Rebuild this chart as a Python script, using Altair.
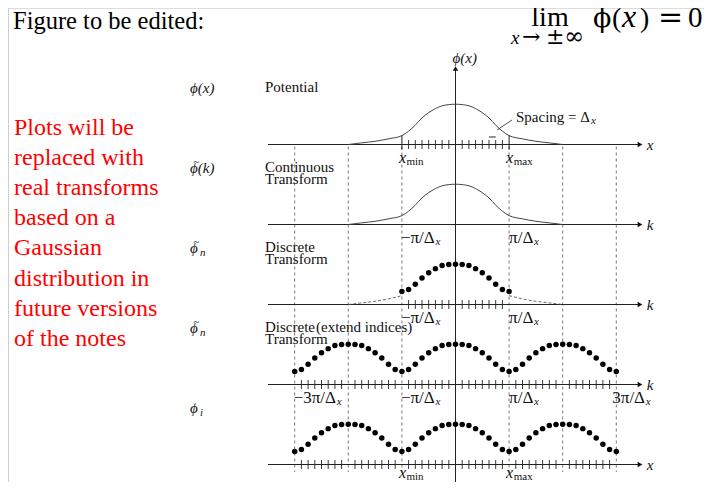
import altair as alt
import pandas as pd

# ---------------- data ----------------
# horizontal unit: 1 = distance from 0 to x_max (= pi/Delta_x)
row_base = [4, 3, 2, 1, 0]                 # potential, continuous, discrete, extended, phi_i
axis_end_labels = ["x", "k", "k", "k", "x"]

# Gaussian curve (normalised to peak) used for the potential and continuous transform
gauss_u = [-2.0, -1.75, -1.5, -1.25, -1.0, -0.875, -0.75, -0.625, -0.5, -0.375, -0.25, -0.125,
           0.0, 0.125, 0.25, 0.375, 0.5, 0.625, 0.75, 0.875, 1.0, 1.25, 1.5, 1.75, 2.0]
gauss_amp = [0.0, 0.04, 0.08, 0.14, 0.22, 0.33, 0.48, 0.66, 0.79, 0.89, 0.96, 0.99,
             1.0, 0.99, 0.96, 0.89, 0.79, 0.66, 0.48, 0.33, 0.22, 0.14, 0.08, 0.04, 0.0]

# discrete samples over one period (-1 ... 0.875)
period_u = [-1.0, -0.875, -0.75, -0.625, -0.5, -0.375, -0.25, -0.125,
            0.0, 0.125, 0.25, 0.375, 0.5, 0.625, 0.75, 0.875]
period_amp = [0.32, 0.37, 0.50, 0.66, 0.79, 0.89, 0.97, 0.99,
              1.0, 0.99, 0.97, 0.89, 0.79, 0.66, 0.50, 0.37]
period_shifts = [-2, 0, 2]

fine_grid = [-3 + 0.125 * i for i in range(49)]
dashed_u = [-3, -2, -1, 1, 2, 3]

left_math_main = ["\u03d5(x)", "\u03d5(k)", "\u03d5", "\u03d5", "\u03d5"]
left_math_tilde = [False, True, True, True, False]
left_math_sub = ["", "", "n", "n", "i"]

row_titles = [["Potential"], ["Continuous", "Transform"], ["Discrete", "Transform"],
              ["Discrete", "Transform"], []]

tick_labels = [
    (0, -1, "x", "min"), (0, 1, "x", "max"),
    (1, -1, "\u2212\u03c0/\u0394", "x"), (1, 1, "\u03c0/\u0394", "x"),
    (2, -1, "\u2212\u03c0/\u0394", "x"), (2, 1, "\u03c0/\u0394", "x"),
    (3, -3, "\u22123\u03c0/\u0394", "x"), (3, -1, "\u2212\u03c0/\u0394", "x"),
    (3, 1, "\u03c0/\u0394", "x"), (3, 3, "3\u03c0/\u0394", "x"),
    (4, -1, "x", "min"), (4, 1, "x", "max"),
]

note_lines = ["Plots will be", "replaced with", "real transforms", "based on a", "Gaussian",
              "distribution in", "future versions", "of the notes"]

# ---------------- layout ----------------
W, H = 696, 474
UNIT_PX = 53.6
ROW_PX = 80.0
CENTER_PX = 447.5
ROW0_PX = 456.5
AMP = 40.3 / ROW_PX
SERIF = "Liberation Serif"
SYM = "DejaVu Serif"


def ux(px):
    return px / UNIT_PX


def uy(px):
    return px / ROW_PX


XS = alt.Scale(domain=[-CENTER_PX / UNIT_PX, (W - CENTER_PX) / UNIT_PX], nice=False, zero=False)
YS = alt.Scale(domain=[(ROW0_PX - H) / ROW_PX, ROW0_PX / ROW_PX], nice=False, zero=False)


def X(f="u"):
    return alt.X(f + ":Q", scale=XS, axis=None)


def Y(f="y"):
    return alt.Y(f + ":Q", scale=YS, axis=None)


AX_START = ux(268 - 455.5)
AX_END = ux(638 - 455.5)
AX_ARROW = ux(640 - 455.5)
AX_LABEL = ux(650 - 455.5)
BOTTOM = (ROW0_PX - H) / ROW_PX

layers = []
dummy = pd.DataFrame({"a": [0]})


def page_text(text, x, y, size, italic=False, font=SERIF, align="left", color="#000", **kw):
    return alt.Chart(dummy).mark_text(font=font, fontSize=size, fontStyle="italic" if italic else "normal",
                                      align=align, baseline="alphabetic", color=color, **kw).encode(
        x=alt.value(x - 8), y=alt.value(y - 8), text=alt.value(text))


# left grey border
layers.append(alt.Chart(dummy).mark_rule(color="#c8c8c8", strokeWidth=1.5).encode(
    x=alt.value(0), y=alt.value(0), y2=alt.value(H)))

# dashed vertical guides
dash_df = pd.DataFrame({"u": dashed_u, "y": [4 - uy(2)] * len(dashed_u), "y2": [-uy(7.5)] * len(dashed_u)})
layers.append(alt.Chart(dash_df).mark_rule(color="#555", strokeWidth=0.8, strokeDash=[3, 3]).encode(
    x=X(), y=Y(), y2="y2:Q"))

# vertical axis
layers.append(alt.Chart(pd.DataFrame({"u": [0], "y": [4 + uy(77)], "y2": [BOTTOM]})).mark_rule(
    color="#222", strokeWidth=1).encode(x=X(), y=Y(), y2="y2:Q"))
layers.append(alt.Chart(pd.DataFrame({"u": [0], "y": [4 + uy(76)]})).mark_point(
    shape="triangle-up", filled=True, size=30, color="#111", opacity=1).encode(x=X(), y=Y()))
layers.append(alt.Chart(pd.DataFrame({"u": [0], "y": [4 + uy(82)], "t": ["\u03d5(x)"]})).mark_text(
    font=SERIF, fontStyle="italic", fontSize=15, align="left", baseline="alphabetic", dx=-3, color="#111").encode(
    x=X(), y=Y(), text="t:N"))

# horizontal axes
hax = pd.DataFrame({"u": [AX_START] * 5, "u2": [AX_END] * 5, "y": row_base})
layers.append(alt.Chart(hax).mark_rule(color="#222", strokeWidth=1).encode(x=X(), x2="u2:Q", y=Y()))
harr = pd.DataFrame({"u": [AX_ARROW] * 5, "y": row_base})
layers.append(alt.Chart(harr).mark_point(shape="triangle-right", filled=True, size=30, color="#111",
                                         opacity=1).encode(x=X(), y=Y()))
hlab = pd.DataFrame({"u": [AX_LABEL] * 5, "y": row_base, "t": axis_end_labels})
layers.append(alt.Chart(hlab).mark_text(font=SERIF, fontStyle="italic", fontSize=15, align="center",
                                        baseline="middle", color="#111").encode(x=X(), y=Y(), text="t:N"))

# small ticks
tk = []
for g in fine_grid:
    if 0 < abs(g) < 1:
        for r in (4, 2):
            tk.append((g, r))
    if g not in (-3, -2, -1, 0, 1, 2, 3):
        for r in (1, 0):
            tk.append((g, r))
tick_df = pd.DataFrame(tk, columns=["u", "row"])
tick_df["y"] = tick_df["row"] + uy(4.5)
tick_df["y2"] = tick_df["row"] - uy(4.5)
layers.append(alt.Chart(tick_df).mark_rule(color="#222", strokeWidth=0.9).encode(x=X(), y=Y(), y2="y2:Q"))
big = pd.DataFrame({"u": [-1, 1], "y": [4 + uy(9.5)] * 2, "y2": [4 - uy(5)] * 2})
layers.append(alt.Chart(big).mark_rule(color="#222", strokeWidth=1).encode(x=X(), y=Y(), y2="y2:Q"))

# continuous curves (rows 4 and 3)
cur = []
for r in (4, 3):
    for u, a in zip(gauss_u, gauss_amp):
        cur.append((u, r + AMP * a, "r%d" % r))
cur_df = pd.DataFrame(cur, columns=["u", "y", "s"])
layers.append(alt.Chart(cur_df).mark_line(interpolate="monotone", color="#444", strokeWidth=1).encode(
    x=X(), y=Y(), detail="s:N"))

# dashed tails on discrete row
tails = []
for u, a in zip(gauss_u, gauss_amp):
    if u <= -1:
        tails.append((u, 2 + AMP * a, "L"))
    if u >= 1:
        tails.append((u, 2 + AMP * a, "R"))
tail_df = pd.DataFrame(tails, columns=["u", "y", "s"])
layers.append(alt.Chart(tail_df).mark_line(interpolate="monotone", color="#555", strokeWidth=0.9,
                                           strokeDash=[3, 2]).encode(x=X(), y=Y(), detail="s:N"))

# dots
dots = []
for u, a in zip(period_u + [1.0], period_amp + [period_amp[0]]):
    dots.append((u, 2 + AMP * a))
for r in (1, 0):
    for s in period_shifts:
        for u, a in zip(period_u, period_amp):
            dots.append((s + u, r + AMP * a))
    dots.append((3.0, r + AMP * period_amp[0]))
dot_df = pd.DataFrame(dots, columns=["u", "y"])
layers.append(alt.Chart(dot_df).mark_circle(size=30, color="#000", opacity=1).encode(x=X(), y=Y()))

# tick labels below axes (alphabetic baselines)
main_w = {"x": 7.1, "\u2212\u03c0/\u0394": 34.0, "\u03c0/\u0394": 24.5, "\u22123\u03c0/\u0394": 42.5,
          "3\u03c0/\u0394": 33.0}
main_d0 = {"x": -3, "\u2212\u03c0/\u0394": -1, "\u03c0/\u0394": 0, "\u22123\u03c0/\u0394": -1, "3\u03c0/\u0394": -4}
main_size = {"x": 16, "\u2212\u03c0/\u0394": 17, "\u03c0/\u0394": 17, "\u22123\u03c0/\u0394": 17, "3\u03c0/\u0394": 17}
tl_main, tl_sub = [], []
for ri, u, m, s in tick_labels:
    r = row_base[ri]
    mb, sb = (13.5, 15.5) if r == 0 else (18.0, 20.5)
    tl_main.append((u + ux(main_d0[m]), r - uy(mb), m, m == "x", main_size[m]))
    tl_sub.append((u + ux(main_d0[m] + main_w[m] + 0.5), r - uy(sb), s, s == "x", 11))
tm = pd.DataFrame(tl_main, columns=["u", "y", "t", "it", "sz"])
ts = pd.DataFrame(tl_sub, columns=["u", "y", "t", "it", "sz"])
for df in (tm, ts):
    for it in (True, False):
        for sz in sorted(df["sz"].unique()):
            sub = df[(df["it"] == it) & (df["sz"] == sz)]
            if len(sub):
                layers.append(alt.Chart(sub).mark_text(
                    font=SERIF, fontSize=int(sz), fontStyle="italic" if it else "normal", align="left",
                    baseline="alphabetic", color="#111").encode(x=X(), y=Y(), text="t:N"))

# left math labels
lm = pd.DataFrame({"u": [ux(190 - 455.5)] * 5, "y": [r + uy(51.5) for r in row_base], "t": left_math_main})
layers.append(alt.Chart(lm).mark_text(font=SERIF, fontStyle="italic", fontSize=15, align="left",
                                      baseline="alphabetic", color="#111").encode(x=X(), y=Y(), text="t:N"))
lt = pd.DataFrame({"u": [ux(196.5 - 455.5)] * 5, "y": [r + uy(63) for r in row_base], "s": left_math_tilde})
lt = lt[lt["s"]].assign(t="~")
layers.append(alt.Chart(lt).mark_text(font=SERIF, fontSize=11, align="center", baseline="middle",
                                      color="#111").encode(x=X(), y=Y(), text="t:N"))
ls = pd.DataFrame({"u": [ux(200 - 455.5)] * 5, "y": [r + uy(49) for r in row_base], "t": left_math_sub})
ls = ls[ls["t"] != ""]
layers.append(alt.Chart(ls).mark_text(font=SERIF, fontStyle="italic", fontSize=11, align="left",
                                      baseline="alphabetic", color="#111").encode(x=X(), y=Y(), text="t:N"))

# row titles
rt = []
for r, lines in zip(row_base, row_titles):
    for i, t in enumerate(lines):
        rt.append((ux(265 - 455.5), r + uy(58 - 12.5 * i), t))
rt.append((ux(316 - 455.5), 1 + uy(58), "(extend indices)"))
rt_df = pd.DataFrame(rt, columns=["u", "y", "t"])
layers.append(alt.Chart(rt_df).mark_text(font=SERIF, fontSize=15, align="left", baseline="middle",
                                         color="#111").encode(x=X(), y=Y(), text="t:N"))

# spacing annotation
sp = pd.DataFrame({"u": [ux(516 - 455.5)], "y": [4 + uy(27.5)], "t": ["Spacing = \u0394"]})
layers.append(alt.Chart(sp).mark_text(font=SERIF, fontSize=15, align="left", baseline="middle",
                                      color="#111").encode(x=X(), y=Y(), text="t:N"))
sps = pd.DataFrame({"u": [ux(591 - 455.5)], "y": [4 + uy(24)], "t": ["x"]})
layers.append(alt.Chart(sps).mark_text(font=SERIF, fontStyle="italic", fontSize=11, align="left",
                                       baseline="middle", color="#111").encode(x=X(), y=Y(), text="t:N"))
lead = pd.DataFrame({"u": [ux(512 - 455.5)], "u2": [ux(497 - 455.5)], "y": [4 + uy(24.5)], "y2": [4 + uy(14.5)]})
layers.append(alt.Chart(lead).mark_rule(color="#222", strokeWidth=0.8).encode(
    x=X(), x2="u2:Q", y=Y(), y2="y2:Q"))
bar = pd.DataFrame({"u": [0.625], "u2": [0.75], "y": [4 + uy(7.5)]})
layers.append(alt.Chart(bar).mark_rule(color="#222", strokeWidth=1).encode(x=X(), x2="u2:Q", y=Y()))

# page texts (page pixel positions)
layers.append(page_text("Figure to be edited:", 13, 29, 24.5))
layers.append(page_text("\n".join(note_lines), 14, 135, 24, color="#ff0000", lineHeight=30.1, lineBreak="\n"))
# limit formula
layers.append(page_text("lim", 550, 26, 28, align="center"))
layers.append(page_text("x", 511, 44, 19, italic=True))
layers.append(page_text("\u2192", 522, 44, 22, font=SYM))
layers.append(page_text("\u00b1", 546, 44, 22, font=SYM))
layers.append(page_text("\u221e", 564, 44, 24, font=SYM))
layers.append(page_text("\u03d5", 593, 27, 27, font=SYM))
layers.append(page_text("(", 612, 27, 28))
layers.append(page_text("x", 622, 27, 32, italic=True))
layers.append(page_text(")", 640, 27, 28))
layers.append(page_text("=", 658, 27, 30, font=SYM))
layers.append(page_text("0", 688, 27, 29))

chart = alt.layer(*layers).properties(width=W, height=H, padding=0,
                                      autosize=alt.AutoSizeParams(type="none")).configure_view(
    strokeWidth=0).configure(background="white")

chart.save("out.html", embed_options={"renderer": "svg", "actions": False})
